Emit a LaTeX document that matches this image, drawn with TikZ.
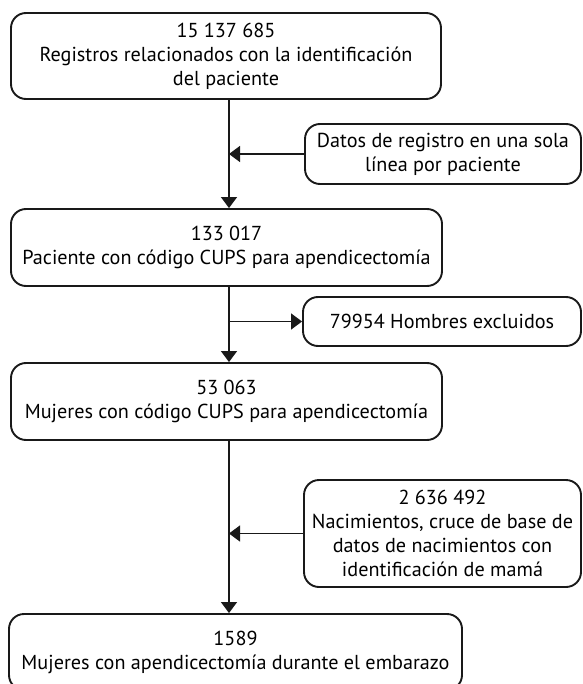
\documentclass[tikz,border=0pt]{standalone}
\usepackage{fontspec}
\setmainfont{PT Sans}
\usetikzlibrary{arrows.meta}
\begin{document}
\begin{tikzpicture}[x=1pt,y=-1pt,
  box/.style={draw=black!90, line width=1.9pt, rounded corners=15pt, align=center,
    inner sep=0pt, font=\fontsize{20.2}{24}\selectfont, text=black},
  conn/.style={line width=1.4pt, draw=black!90},
  arr/.style={conn, -{Triangle[width=16pt,length=11pt]}}]
\clip (0,0) rectangle (582,684);
\fill[white] (0,0) rectangle (582,684);
\coordinate (v) at (229,0);
\node[box, minimum width=430pt, minimum height=86pt] (b1) at (226,56)
  {15 137 685\\Registros relacionados con la identificación\\del paciente};
\node[box, minimum width=276pt, minimum height=60pt] (b2) at (443,154)
  {Datos de registro en una sola\\línea por paciente};
\node[box, minimum width=431pt, minimum height=77pt] (b3) at (226.5,247.5)
  {133 017\\Paciente con código CUPS para apendicectomía};
\node[box, minimum width=278pt, minimum height=49pt] (b4) at (442,321.5)
  {79954 Hombres excluidos};
\node[box, minimum width=431pt, minimum height=77pt] (b5) at (226.5,401.5)
  {53 063\\Mujeres con código CUPS para apendicectomía};
\node[box, minimum width=277pt, minimum height=107pt] (b6) at (442.5,533.5)
  {2 636 492\\Nacimientos, cruce de base de\\datos de nacimientos con\\identificación de mamá};
\node[box, minimum width=453pt, minimum height=76pt] (b7) at (235.5,652)
  {1589\\Mujeres con apendicectomía durante el embarazo};
\coordinate (j1) at (b2.west -| v);
\coordinate (j2) at (b4.west -| v);
\coordinate (j3) at (b6.west -| v);
\draw[arr] (b1.south -| v) -- (b3.north -| v);
\draw[arr] (b2.west) -- (j1);
\draw[arr] (b3.south -| v) -- (b5.north -| v);
\draw[arr] (j2) -- (b4.west);
\draw[arr] (b5.south -| v) -- (b7.north -| v);
\draw[arr] (b6.west) -- (j3);
\end{tikzpicture}
\end{document}
